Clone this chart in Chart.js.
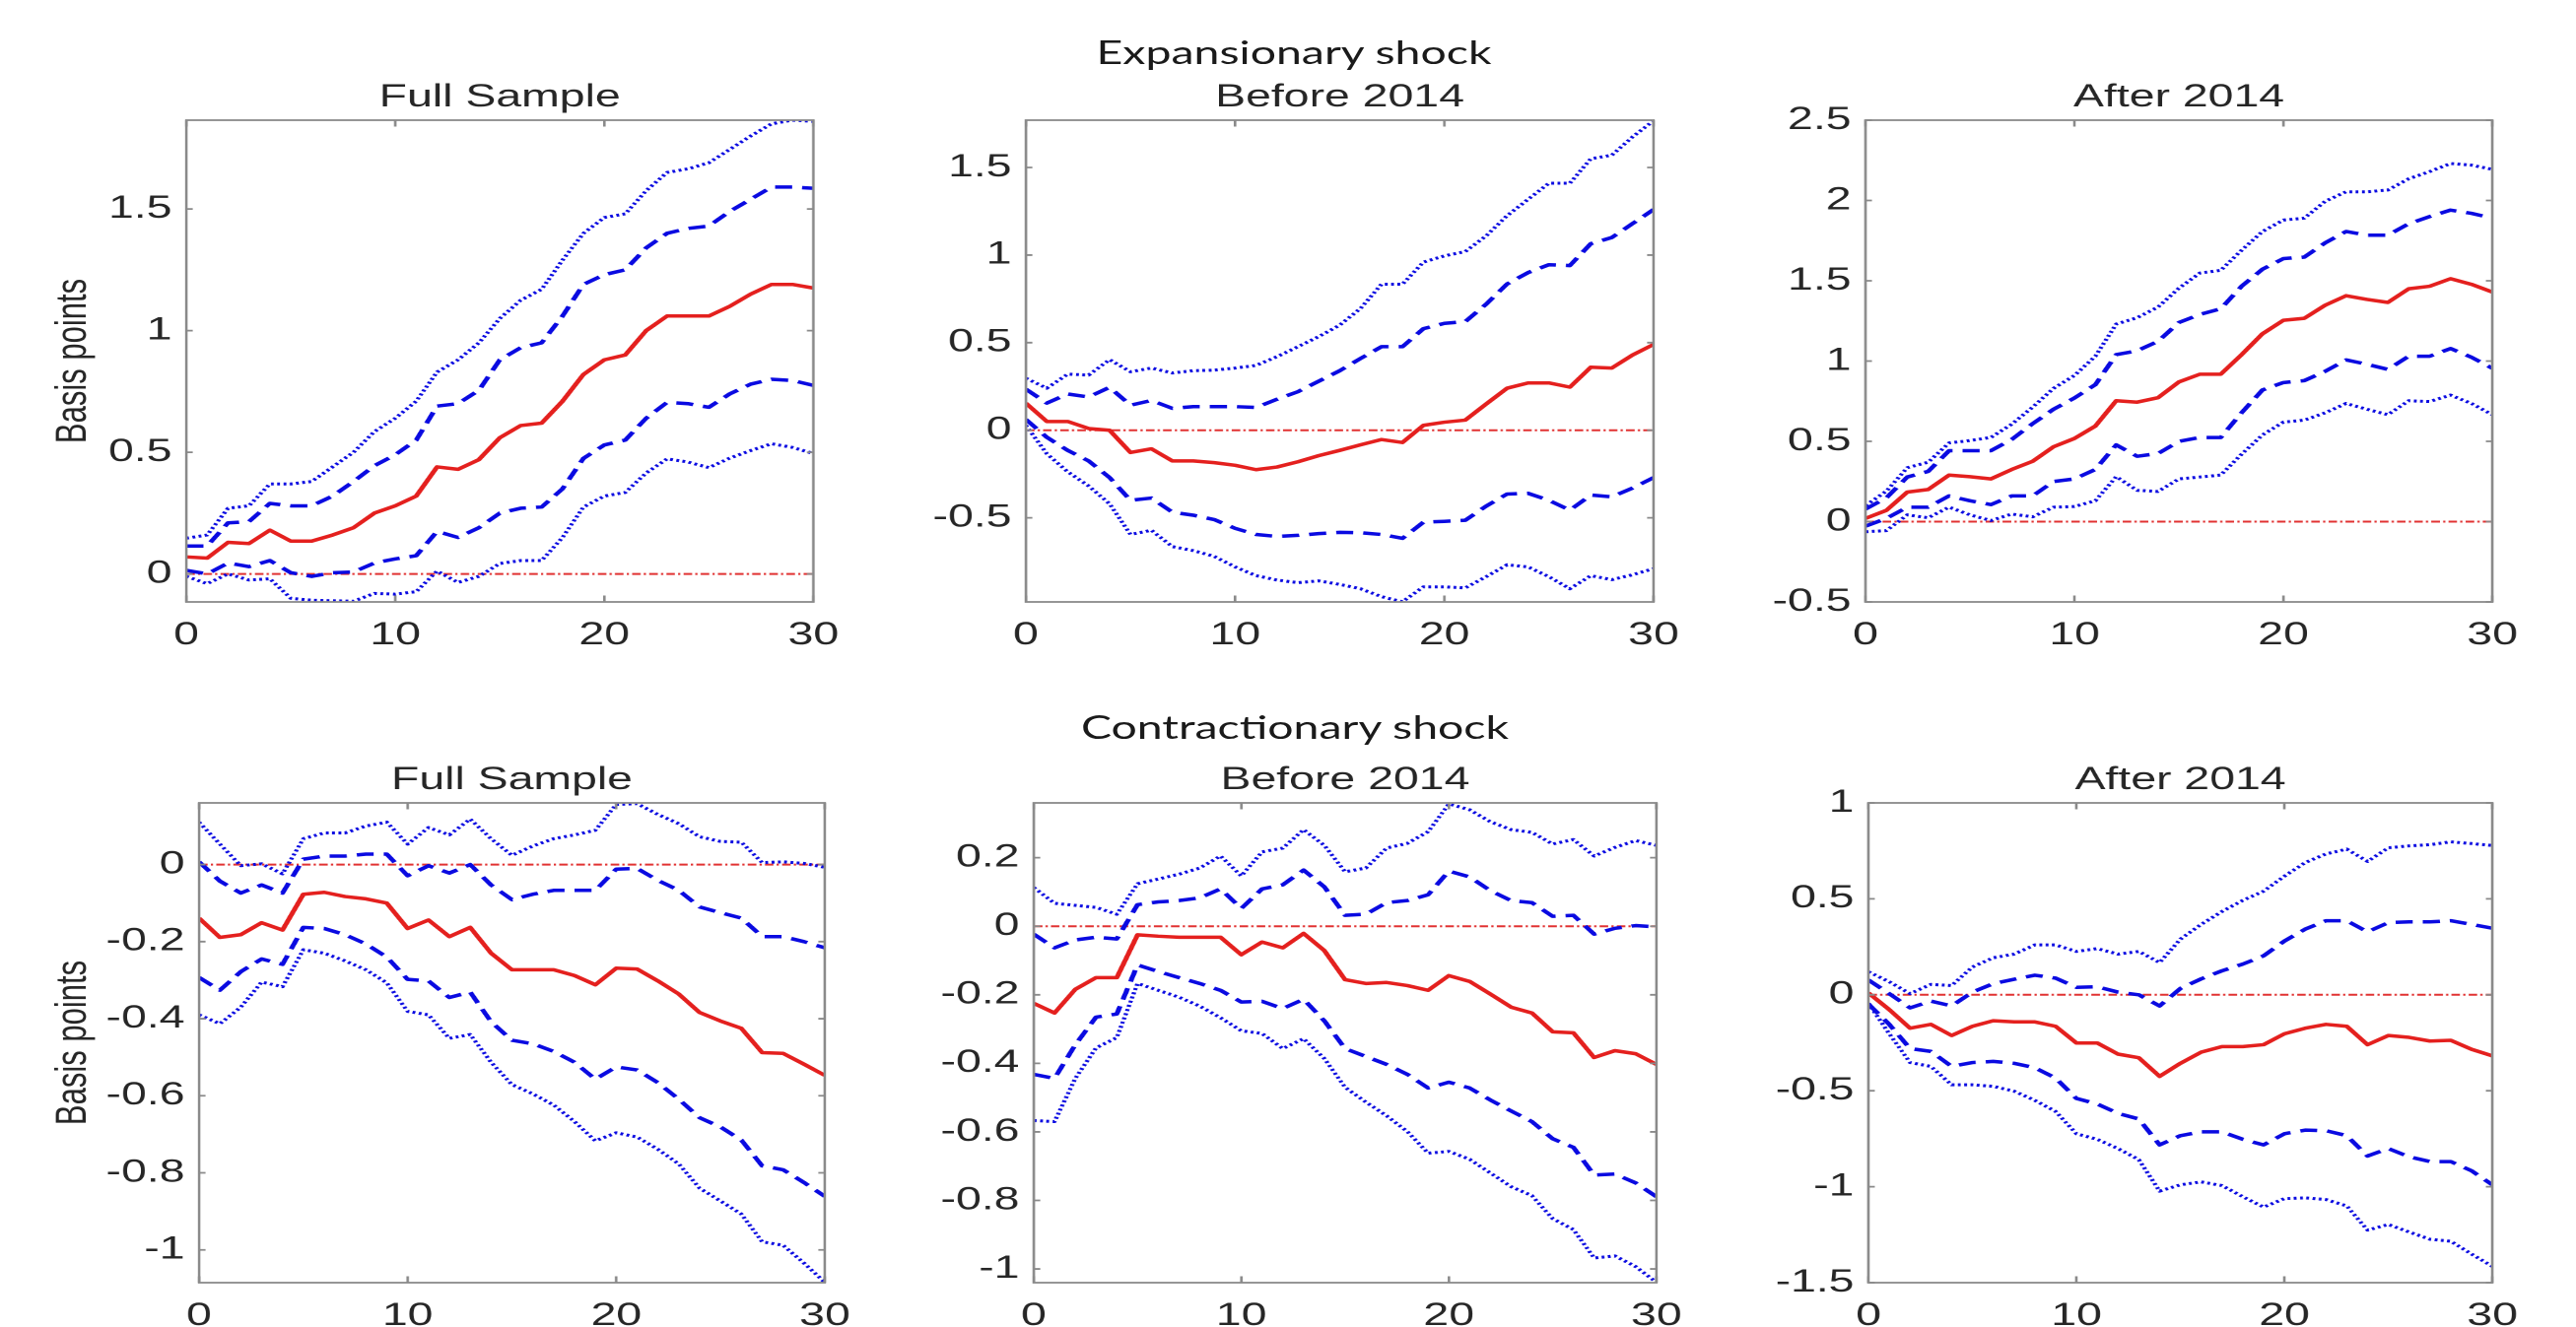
<!DOCTYPE html>
<html>
<head>
<meta charset="utf-8">
<script src="https://cdn.jsdelivr.net/npm/chart.js@4.4.1/dist/chart.umd.min.js"></script>
<style>
  html, body { margin: 0; padding: 0; background: #fff; overflow: hidden; }
  body { width: 2614px; height: 1347px; position: relative; }
  /* the reference is stretched sideways, so everything is laid out narrow and widened */
  #stage { position: absolute; left: 0; top: 0; width: 1803px; height: 1347px;
           transform: scaleX(1.45); transform-origin: 0 0; }
  .panel { position: absolute; }
  .rowhead { position: absolute; width: 600px; text-align: center;
             font-family: Lato, 'Open Sans', sans-serif; font-size: 32px; line-height: 32px; color: #1a1a1a; }
</style>
</head>
<body>
<div id="stage"></div>
<script>
// horizons (x axis)
const horizons = [0,1,2,3,4,5,6,7,8,9,10,11,12,13,14,15,16,17,18,19,20,21,22,23,24,25,26,27,28,29,30];
const xTicks = [0, 10, 20, 30];

const rowTitles = ['Expansionary shock', 'Contractionary shock'];
const panelTitles = ['Full Sample', 'Before 2014', 'After 2014'];
const yLabel = 'Basis points';

// Expansionary shock - full sample
const expFullIrf  = [0.07,0.065,0.13,0.125,0.18,0.135,0.135,0.16,0.19,0.25,0.28,0.32,0.44,0.43,0.47,0.56,0.61,0.62,0.71,0.82,0.88,0.9,1.0,1.06,1.06,1.06,1.1,1.15,1.19,1.19,1.175];
const expFullHi68 = [0.115,0.115,0.21,0.215,0.29,0.28,0.28,0.32,0.38,0.445,0.49,0.55,0.69,0.70,0.755,0.88,0.93,0.95,1.06,1.19,1.23,1.25,1.34,1.40,1.42,1.43,1.49,1.54,1.59,1.59,1.585];
const expFullHi90 = [0.147,0.16,0.27,0.28,0.37,0.37,0.38,0.44,0.5,0.585,0.64,0.71,0.83,0.88,0.95,1.05,1.125,1.17,1.29,1.40,1.465,1.48,1.575,1.65,1.665,1.69,1.745,1.8,1.85,1.865,1.86];
const expFullLo68 = [0.015,0.0,0.045,0.03,0.055,0.005,-0.01,0.005,0.008,0.045,0.062,0.075,0.175,0.15,0.19,0.25,0.27,0.275,0.35,0.475,0.53,0.55,0.64,0.705,0.70,0.685,0.74,0.78,0.80,0.795,0.775];
const expFullLo90 = [-0.01,-0.04,0.0,-0.025,-0.02,-0.1,-0.108,-0.11,-0.112,-0.08,-0.083,-0.073,0.012,-0.035,-0.01,0.043,0.055,0.055,0.15,0.275,0.32,0.335,0.415,0.473,0.46,0.437,0.476,0.507,0.535,0.52,0.495];
const expFullYLim = [-0.115, 1.865];
const expFullYTicks = [0, 0.5, 1, 1.5];

// Expansionary shock - before 2014
const expBeforeIrf  = [0.155,0.05,0.05,0.01,0.0,-0.127,-0.106,-0.175,-0.175,-0.185,-0.2,-0.225,-0.21,-0.18,-0.145,-0.115,-0.083,-0.053,-0.07,0.028,0.046,0.058,0.15,0.24,0.27,0.27,0.246,0.36,0.355,0.43,0.49];
const expBeforeHi68 = [0.235,0.155,0.207,0.19,0.245,0.143,0.17,0.125,0.135,0.135,0.135,0.13,0.177,0.22,0.28,0.34,0.41,0.477,0.477,0.58,0.61,0.62,0.72,0.835,0.9,0.945,0.94,1.065,1.1,1.18,1.26];
const expBeforeHi90 = [0.297,0.24,0.32,0.315,0.403,0.334,0.355,0.327,0.34,0.343,0.355,0.37,0.42,0.477,0.535,0.6,0.696,0.834,0.834,0.96,0.995,1.02,1.11,1.225,1.318,1.41,1.41,1.55,1.57,1.675,1.767];
const expBeforeLo68 = [0.062,-0.04,-0.115,-0.175,-0.27,-0.4,-0.387,-0.468,-0.485,-0.51,-0.56,-0.595,-0.606,-0.6,-0.59,-0.583,-0.585,-0.595,-0.617,-0.525,-0.52,-0.514,-0.433,-0.364,-0.36,-0.4,-0.456,-0.37,-0.38,-0.33,-0.27];
const expBeforeLo90 = [0.028,-0.134,-0.237,-0.318,-0.42,-0.595,-0.571,-0.664,-0.687,-0.72,-0.78,-0.83,-0.855,-0.87,-0.86,-0.88,-0.905,-0.95,-0.979,-0.894,-0.894,-0.9,-0.836,-0.768,-0.78,-0.836,-0.905,-0.83,-0.853,-0.825,-0.79];
const expBeforeYLim = [-0.98, 1.77];
const expBeforeYTicks = [-0.5, 0, 0.5, 1, 1.5];

// Expansionary shock - after 2014
const expAfterIrf  = [0.02,0.07,0.184,0.2,0.29,0.28,0.266,0.325,0.376,0.466,0.518,0.595,0.753,0.744,0.772,0.87,0.918,0.918,1.04,1.17,1.254,1.266,1.348,1.407,1.384,1.365,1.45,1.466,1.513,1.478,1.43];
const expAfterHi68 = [0.078,0.148,0.278,0.313,0.442,0.442,0.442,0.512,0.61,0.7,0.77,0.853,1.04,1.064,1.123,1.24,1.29,1.325,1.466,1.572,1.638,1.647,1.736,1.807,1.784,1.784,1.855,1.9,1.94,1.92,1.89];
const expAfterHi90 = [0.1,0.19,0.336,0.37,0.49,0.505,0.524,0.607,0.713,0.83,0.91,1.03,1.23,1.27,1.336,1.454,1.548,1.565,1.69,1.807,1.878,1.89,1.995,2.054,2.054,2.065,2.135,2.18,2.23,2.22,2.194];
const expAfterLo68 = [-0.028,0.02,0.09,0.09,0.16,0.13,0.106,0.16,0.16,0.25,0.266,0.325,0.478,0.407,0.424,0.5,0.524,0.524,0.678,0.82,0.866,0.878,0.936,1.007,0.98,0.948,1.03,1.03,1.078,1.024,0.955];
const expAfterLo90 = [-0.063,-0.056,0.042,0.024,0.09,0.042,0.007,0.047,0.03,0.09,0.094,0.13,0.28,0.195,0.188,0.266,0.278,0.29,0.42,0.54,0.62,0.632,0.678,0.736,0.7,0.666,0.753,0.748,0.788,0.736,0.666];
const expAfterYLim = [-0.5, 2.5];
const expAfterYTicks = [-0.5, 0, 0.5, 1, 1.5, 2, 2.5];

// Contractionary shock - full sample
const conFullIrf  = [-0.139,-0.189,-0.182,-0.151,-0.17,-0.077,-0.072,-0.083,-0.089,-0.1,-0.166,-0.144,-0.187,-0.163,-0.23,-0.273,-0.273,-0.273,-0.288,-0.312,-0.269,-0.271,-0.302,-0.336,-0.384,-0.406,-0.425,-0.488,-0.49,-0.518,-0.547];
const conFullHi68 = [0.007,-0.043,-0.074,-0.053,-0.074,0.014,0.022,0.022,0.027,0.027,-0.029,-0.003,-0.022,0.0,-0.053,-0.091,-0.077,-0.067,-0.067,-0.067,-0.012,-0.01,-0.041,-0.067,-0.11,-0.125,-0.139,-0.187,-0.187,-0.2,-0.216];
const conFullHi90 = [0.11,0.053,-0.003,0.002,-0.024,0.067,0.082,0.082,0.1,0.11,0.053,0.096,0.077,0.118,0.067,0.024,0.048,0.067,0.077,0.089,0.156,0.158,0.13,0.106,0.072,0.06,0.058,0.005,0.007,0.003,-0.007];
const conFullLo68 = [-0.293,-0.326,-0.278,-0.245,-0.259,-0.163,-0.166,-0.182,-0.206,-0.24,-0.298,-0.302,-0.345,-0.331,-0.408,-0.456,-0.465,-0.485,-0.513,-0.557,-0.525,-0.533,-0.566,-0.609,-0.657,-0.681,-0.715,-0.782,-0.792,-0.825,-0.861];
const conFullLo90 = [-0.39,-0.413,-0.37,-0.305,-0.317,-0.221,-0.23,-0.25,-0.273,-0.307,-0.381,-0.39,-0.451,-0.441,-0.513,-0.571,-0.595,-0.624,-0.667,-0.717,-0.696,-0.707,-0.739,-0.777,-0.84,-0.873,-0.907,-0.979,-0.988,-1.034,-1.084];
const conFullYLim = [-1.085, 0.16];
const conFullYTicks = [-1, -0.8, -0.6, -0.4, -0.2, 0];

// Contractionary shock - before 2014
const conBeforeIrf  = [-0.225,-0.253,-0.184,-0.15,-0.15,-0.025,-0.029,-0.032,-0.032,-0.032,-0.083,-0.046,-0.063,-0.021,-0.071,-0.156,-0.167,-0.164,-0.173,-0.187,-0.144,-0.161,-0.198,-0.236,-0.253,-0.308,-0.311,-0.383,-0.363,-0.372,-0.403];
const conBeforeHi68 = [-0.023,-0.063,-0.04,-0.032,-0.037,0.063,0.071,0.075,0.083,0.109,0.052,0.109,0.121,0.164,0.115,0.032,0.035,0.069,0.075,0.092,0.161,0.144,0.104,0.075,0.069,0.029,0.032,-0.023,-0.006,0.002,-0.002];
const conBeforeHi90 = [0.113,0.067,0.061,0.055,0.035,0.124,0.138,0.152,0.17,0.205,0.147,0.217,0.228,0.282,0.236,0.159,0.17,0.228,0.242,0.276,0.357,0.34,0.305,0.282,0.274,0.24,0.253,0.205,0.23,0.25,0.236];
const conBeforeLo68 = [-0.432,-0.444,-0.346,-0.265,-0.256,-0.113,-0.132,-0.15,-0.167,-0.187,-0.221,-0.219,-0.24,-0.213,-0.276,-0.357,-0.38,-0.403,-0.432,-0.472,-0.455,-0.472,-0.507,-0.539,-0.57,-0.62,-0.645,-0.726,-0.723,-0.749,-0.789];
const conBeforeLo90 = [-0.567,-0.57,-0.444,-0.355,-0.325,-0.167,-0.187,-0.207,-0.233,-0.267,-0.305,-0.313,-0.357,-0.328,-0.386,-0.47,-0.513,-0.553,-0.599,-0.662,-0.657,-0.68,-0.72,-0.76,-0.786,-0.853,-0.885,-0.968,-0.962,-0.993,-1.039];
const conBeforeYLim = [-1.04, 0.36];
const conBeforeYTicks = [-1, -0.8, -0.6, -0.4, -0.2, 0, 0.2];

// Contractionary shock - after 2014
const conAfterIrf  = [0.01,-0.077,-0.174,-0.154,-0.212,-0.164,-0.135,-0.141,-0.141,-0.164,-0.251,-0.251,-0.309,-0.328,-0.425,-0.357,-0.299,-0.27,-0.27,-0.26,-0.203,-0.174,-0.154,-0.164,-0.26,-0.212,-0.222,-0.241,-0.237,-0.284,-0.318];
const conAfterHi68 = [0.077,0.006,-0.068,-0.033,-0.058,0.014,0.058,0.081,0.102,0.087,0.039,0.042,0.014,0.0,-0.058,0.033,0.083,0.125,0.16,0.203,0.28,0.342,0.386,0.386,0.328,0.376,0.38,0.38,0.386,0.367,0.347];
const conAfterHi90 = [0.12,0.068,0.006,0.054,0.048,0.145,0.193,0.212,0.26,0.26,0.226,0.241,0.212,0.226,0.168,0.29,0.367,0.434,0.492,0.54,0.618,0.689,0.734,0.759,0.695,0.766,0.776,0.782,0.797,0.788,0.778];
const conAfterLo68 = [-0.048,-0.154,-0.28,-0.295,-0.373,-0.353,-0.347,-0.357,-0.38,-0.434,-0.54,-0.569,-0.618,-0.647,-0.782,-0.734,-0.714,-0.714,-0.753,-0.782,-0.724,-0.705,-0.708,-0.734,-0.84,-0.801,-0.844,-0.869,-0.869,-0.917,-0.99];
const conAfterLo90 = [-0.044,-0.203,-0.353,-0.373,-0.469,-0.469,-0.477,-0.502,-0.55,-0.608,-0.724,-0.753,-0.801,-0.859,-1.023,-0.99,-0.975,-0.994,-1.052,-1.106,-1.062,-1.058,-1.067,-1.1,-1.226,-1.197,-1.236,-1.274,-1.284,-1.351,-1.415];
const conAfterYLim = [-1.5, 1];
const conAfterYTicks = [-1.5, -1, -0.5, 0, 0.5, 1];

// layout (page pixels of each plot box)
const SX = 1.45;
const TH = 42, XH = 60;
const panels = [
  { box: [189, 836, 122, 611],  title: panelTitles[0], label: true,  lim: expFullYLim,   ticks: expFullYTicks,   s: [expFullIrf, expFullHi68, expFullLo68, expFullHi90, expFullLo90] },
  { box: [1041, 1689, 122, 611], title: panelTitles[1], label: false, lim: expBeforeYLim, ticks: expBeforeYTicks, s: [expBeforeIrf, expBeforeHi68, expBeforeLo68, expBeforeHi90, expBeforeLo90] },
  { box: [1893, 2539, 122, 611], title: panelTitles[2], label: false, lim: expAfterYLim,  ticks: expAfterYTicks,  s: [expAfterIrf, expAfterHi68, expAfterLo68, expAfterHi90, expAfterLo90] },
  { box: [202, 847, 815, 1302],  title: panelTitles[0], label: true,  lim: conFullYLim,   ticks: conFullYTicks,   s: [conFullIrf, conFullHi68, conFullLo68, conFullHi90, conFullLo90] },
  { box: [1049, 1692, 815, 1302], title: panelTitles[1], label: false, lim: conBeforeYLim, ticks: conBeforeYTicks, s: [conBeforeIrf, conBeforeHi68, conBeforeLo68, conBeforeHi90, conBeforeLo90] },
  { box: [1896, 2539, 815, 1302], title: panelTitles[2], label: false, lim: conAfterYLim,  ticks: conAfterYTicks,  s: [conAfterIrf, conAfterHi68, conAfterLo68, conAfterHi90, conAfterLo90] }
];

const RED = 'rgb(228, 32, 30)';
const BLUE = 'rgb(10, 10, 225)';
const TXT = '#262626';
Chart.defaults.font.family = "'Liberation Sans', Arial, Helvetica, sans-serif";

const stage = document.getElementById('stage');

// row headings
[[rowTitles[0], 1313, 37], [rowTitles[1], 1314, 722]].forEach(([txt, cx, top]) => {
  const d = document.createElement('div');
  d.className = 'rowhead';
  d.textContent = txt;
  d.style.left = (cx / SX - 300) + 'px';
  d.style.top = top + 'px';
  stage.appendChild(d);
});

// matlab style box with inward ticks
const framePlugin = {
  id: 'frame',
  afterDatasetsDraw(chart) {
    const { ctx, chartArea: a, scales: { x, y } } = chart;
    ctx.save();
    ctx.strokeStyle = '#8a8a8a';
    ctx.lineWidth = 1.8;
    ctx.strokeRect(a.left, a.top, a.right - a.left, a.bottom - a.top);
    ctx.beginPath();
    x.ticks.forEach(t => {
      const px = x.getPixelForValue(t.value);
      ctx.moveTo(px, a.bottom); ctx.lineTo(px, a.bottom - 6.5);
      ctx.moveTo(px, a.top); ctx.lineTo(px, a.top + 6.5);
    });
    y.ticks.forEach(t => {
      const py = y.getPixelForValue(t.value);
      ctx.moveTo(a.left, py); ctx.lineTo(a.left + 4.5, py);
      ctx.moveTo(a.right, py); ctx.lineTo(a.right - 4.5, py);
    });
    ctx.stroke();
    ctx.restore();
  }
};

function series(vals) {
  return horizons.map((h, i) => ({ x: h, y: vals[i] }));
}

panels.forEach(p => {
  const [L, R, T, B] = p.box;
  const l = L / SX, w = (R - L) / SX, h = B - T;
  const cLeft = p.label ? 29 : Math.round(l - 80);
  const yw = l - cLeft;
  const cw = Math.ceil(yw + w + 25);
  const pr = cw - yw - w;
  const ch = TH + h + XH;

  const wrap = document.createElement('div');
  wrap.className = 'panel';
  wrap.style.left = cLeft + 'px';
  wrap.style.top = (T - TH) + 'px';
  const canvas = document.createElement('canvas');
  canvas.width = cw;
  canvas.height = ch;
  canvas.style.width = cw + 'px';
  canvas.style.height = ch + 'px';
  wrap.appendChild(canvas);
  stage.appendChild(wrap);

  const [irf, hi68, lo68, hi90, lo90] = p.s;
  const dashed = { borderColor: BLUE, borderWidth: 3.5, borderDash: [12, 7] };
  const dotted = { borderColor: BLUE, borderWidth: 3, borderDash: [2, 2.4] };

  new Chart(canvas, {
    type: 'line',
    data: {
      datasets: [
        { data: series(irf), borderColor: RED, borderWidth: 3.5 },
        Object.assign({ data: series(hi68) }, dashed),
        Object.assign({ data: series(lo68) }, dashed),
        Object.assign({ data: series(hi90) }, dotted),
        Object.assign({ data: series(lo90) }, dotted),
        { data: [{ x: horizons[0], y: 0 }, { x: horizons[horizons.length - 1], y: 0 }],
          borderColor: 'rgb(225, 50, 50)', borderWidth: 2, borderDash: [6, 2.2, 1.6, 2.2] }
      ]
    },
    options: {
      responsive: false,
      animation: false,
      devicePixelRatio: 2,
      layout: { padding: { left: 0, top: 0, right: pr, bottom: 0 } },
      elements: {
        point: { radius: 0, hoverRadius: 0 },
        line: { tension: 0, borderJoinStyle: 'round', fill: false }
      },
      plugins: {
        legend: { display: false },
        tooltip: { enabled: false },
        title: {
          display: true,
          text: p.title,
          fullSize: false,
          color: TXT,
          font: { size: 32, weight: 'normal' },
          padding: { top: 0, bottom: TH - 38.4 }
        }
      },
      scales: {
        x: {
          type: 'linear',
          min: horizons[0],
          max: horizons[horizons.length - 1],
          grid: { display: false, drawTicks: false },
          border: { display: false },
          ticks: { color: TXT, font: { size: 32 }, padding: 15, maxRotation: 0, autoSkip: false,
                   callback: v => String(v) },
          afterBuildTicks: s => { s.ticks = xTicks.map(v => ({ value: v })); },
          afterFit: s => { s.height = XH; }
        },
        y: {
          min: p.lim[0],
          max: p.lim[1],
          grid: { display: false, drawTicks: false },
          border: { display: false },
          ticks: { color: TXT, font: { size: 32 }, padding: 10, autoSkip: false,
                   callback: v => String(v) },
          title: { display: p.label, text: yLabel, color: TXT, font: { size: 31 },
                   padding: { top: 4, bottom: 0 } },
          afterBuildTicks: s => { s.ticks = p.ticks.map(v => ({ value: v })); },
          afterFit: s => { s.width = yw; }
        }
      }
    },
    plugins: [framePlugin]
  });
});
</script>
</body>
</html>
